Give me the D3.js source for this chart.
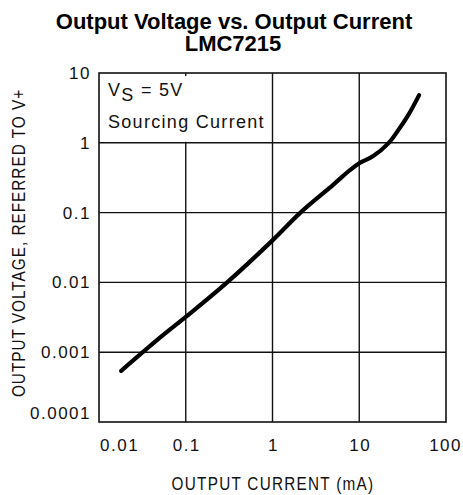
<!DOCTYPE html>
<html>
<head>
<meta charset="utf-8">
<title>Output Voltage vs. Output Current</title>
<style>
body { margin: 0; background: #fff; }
.title { font-family: "Liberation Sans", Arial, sans-serif; font-weight: bold; font-size: 22px; }
.lbl { font-family: "Liberation Sans", Arial, sans-serif; font-size: 17px; fill: #111; }
.ttl { font-family: "Liberation Sans", Arial, sans-serif; font-size: 18px; fill: #111; }
.grid { stroke: #111; stroke-width: 1.4px; }
</style>
</head>
<body>
<svg width="463" height="495"></svg>
<script src="https://d3js.org/d3.v7.min.js"></script>
<script>

// output current (mA) and output voltage referred to V+ (V)
var currentMA = [0.018, 0.05, 0.1, 0.3, 1, 2.1, 5, 7.8, 10, 14.5, 21.6, 28.2, 36.7, 49];
var outputV   = [0.00054, 0.0016, 0.0032, 0.01, 0.04, 0.1, 0.25, 0.405, 0.51, 0.645, 0.98, 1.52, 2.49, 4.82];

var xTicks = [0.01, 0.1, 1, 10, 100];
var xTickLabels = ["0.01", "0.1", "1", "10", "100"];
var yTicks = [10, 1, 0.1, 0.01, 0.001, 0.0001];
var yTickLabels = ["10", "1", "0.1", "0.01", "0.001", "0.0001"];

var svg = d3.select("svg");

var plotL = 99, plotR = 446, plotT = 73, plotB = 422;

var x = d3.scaleLog().domain([0.01, 100]).range([plotL, plotR]);
var y = d3.scaleLog().domain([0.0001, 10]).range([plotB, plotT]);

// title
svg.append("text").attr("class", "title")
    .attr("x", 234).attr("y", 29).attr("text-anchor", "middle")
    .text("Output Voltage vs. Output Current");
svg.append("text").attr("class", "title")
    .attr("x", 233).attr("y", 51).attr("text-anchor", "middle")
    .text("LMC7215");

// grid
svg.selectAll("line.gx")
  .data(xTicks.slice(1, -1))
  .enter().append("line")
    .attr("class", "grid")
    .attr("x1", function(d) { return x(d); })
    .attr("x2", function(d) { return x(d); })
    .attr("y1", plotT).attr("y2", plotB);

svg.selectAll("line.gy")
  .data(yTicks.slice(1, -1))
  .enter().append("line")
    .attr("class", "grid")
    .attr("y1", function(d) { return y(d); })
    .attr("y2", function(d) { return y(d); })
    .attr("x1", plotL).attr("x2", plotR);

// legend (white patch hides the grid behind it)
svg.append("rect")
    .attr("x", plotL + 2).attr("y", plotT + 3)
    .attr("width", 168).attr("height", y(1) - plotT - 4)
    .attr("fill", "#fff");

var leg = svg.append("text").attr("class", "ttl")
    .attr("x", 108).attr("y", 96).style("letter-spacing", "1.3px");
leg.append("tspan").text("V");
leg.append("tspan").attr("dy", 5).text("S");
leg.append("tspan").attr("dy", -5).text(" = 5V");

svg.append("text").attr("class", "ttl")
    .attr("x", 108).attr("y", 128).style("letter-spacing", "1.3px")
    .text("Sourcing Current");

// frame
svg.append("rect")
    .attr("x", plotL).attr("y", plotT)
    .attr("width", plotR - plotL).attr("height", plotB - plotT)
    .attr("fill", "none").attr("stroke", "#111").attr("stroke-width", 1.6);

// curve
var line = d3.line()
    .x(function(d) { return x(d[0]); })
    .y(function(d) { return y(d[1]); })
    .curve(d3.curveCatmullRom);

svg.append("path")
    .datum(d3.zip(currentMA, outputV))
    .attr("d", line)
    .attr("fill", "none")
    .attr("stroke", "#000")
    .attr("stroke-width", 4.2)
    .attr("stroke-linecap", "round");

// x tick labels
svg.selectAll("text.xt")
  .data(xTicks)
  .enter().append("text")
    .attr("class", "lbl xt")
    .style("letter-spacing", "1.5px")
    .attr("x", function(d, i) {
      if (i === 0) return x(d) + 1;
      if (i === xTicks.length - 1) return 462;
      return x(d) + 1;
    })
    .attr("y", 451)
    .attr("text-anchor", function(d, i) {
      if (i === 0) return "start";
      if (i === xTicks.length - 1) return "end";
      return "middle";
    })
    .text(function(d, i) { return xTickLabels[i]; });

// y tick labels
svg.selectAll("text.yt")
  .data(yTicks)
  .enter().append("text")
    .attr("class", "lbl yt")
    .style("letter-spacing", "1.5px")
    .attr("x", 91)
    .attr("y", function(d, i) {
      if (i === yTicks.length - 1) return y(d) - 3;
      return y(d) + 6;
    })
    .attr("text-anchor", "end")
    .text(function(d, i) { return yTickLabels[i]; });

// axis titles, squeezed a little to match the narrow lettering
svg.append("g")
    .attr("transform", "translate(273,490) scale(0.85,1)")
  .append("text").attr("class", "ttl")
    .attr("text-anchor", "middle")
    .style("letter-spacing", "1.5px")
    .text("OUTPUT CURRENT (mA)");

svg.append("g")
    .attr("transform", "translate(25,243) rotate(-90) scale(0.85,1)")
  .append("text").attr("class", "ttl")
    .attr("text-anchor", "middle")
    .style("letter-spacing", "1.2px")
    .text("OUTPUT VOLTAGE, REFERRED TO V+");

</script>
</body>
</html>
